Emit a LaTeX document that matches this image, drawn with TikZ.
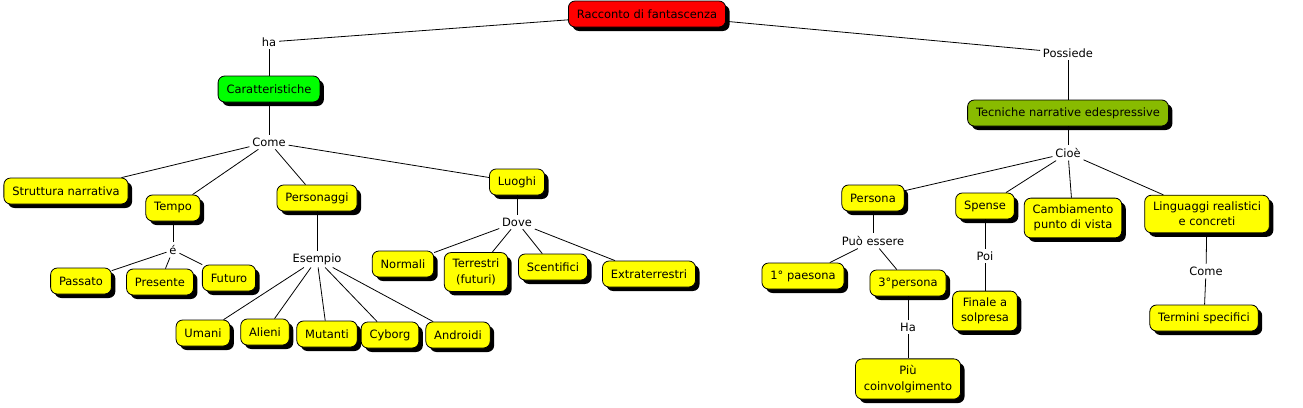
\documentclass[tikz,border=0pt]{standalone}
\usepackage{fontspec}
\setmainfont{DejaVu Sans}
\usetikzlibrary{shadows}
\definecolor{mapred}{RGB}{255,0,0}
\definecolor{mapgreen}{RGB}{0,255,0}
\definecolor{mapolive}{RGB}{136,187,0}
\definecolor{mapyellow}{RGB}{255,255,0}
\newcommand{\mapfont}{\fontsize{8.6pt}{11.5pt}\selectfont}

\begin{document}
\begin{tikzpicture}[x=0.75pt,y=-0.75pt,
    concept/.style={draw, rounded corners=5pt, fill=mapyellow, line width=0.6pt,
        inner xsep=6.3pt, inner ysep=5pt, minimum height=19.5pt, align=center, font=\mapfont,
        drop shadow={shadow xshift=3pt, shadow yshift=-3pt, fill=black, opacity=1}},
    linkword/.style={inner sep=2pt, font=\mapfont},
    link/.style={line width=0.6pt}]
            \useasboundingbox (0,0) rectangle (1303,407);

            % Root
            \node[concept, fill=mapred] (racconto) at (647,14) {Racconto di fantascenza};

            % Left branch
            \node[linkword] (ha) at (269,42) {ha};
            \node[concept, fill=mapgreen] (caratt) at (269,89) {Caratteristiche};
            \node[linkword] (come) at (269,142) {Come};
            \node[concept] (struttura) at (66,191) {Struttura narrativa};
            \node[concept] (tempo) at (173,208) {Tempo};
            \node[concept] (personaggi) at (317,198) {Personaggi};
            \node[concept] (luoghi) at (517,182) {Luoghi};

            \node[linkword] (e) at (173,250) {é};
            \node[concept] (passato) at (81,281) {Passato};
            \node[concept] (presente) at (160,282) {Presente};
            \node[concept] (futuro) at (229,278) {Futuro};

            \node[linkword] (esempio) at (317,259) {Esempio};
            \node[concept] (umani) at (203,333) {Umani};
            \node[concept] (alieni) at (265,332) {Alieni};
            \node[concept] (mutanti) at (327,334) {Mutanti};
            \node[concept] (cyborg) at (390,335) {Cyborg};
            \node[concept] (androidi) at (458,335) {Androidi};

            \node[linkword] (dove) at (517,222) {Dove};
            \node[concept] (normali) at (403,264) {Normali};
            \node[concept] (terrestri) at (476,272) {Terrestri\\(futuri)};
            \node[concept] (scentifici) at (553,267) {Scentifici};
            \node[concept] (extra) at (649,274) {Extraterrestri};

            % Right branch
            \node[linkword] (possiede) at (1068,53) {Possiede};
            \node[concept, fill=mapolive] (tecniche) at (1068,113) {Tecniche narrative edespressive};
            \node[linkword] (cioe) at (1068,153) {Cioè};
            \node[concept] (persona) at (873,198) {Persona};
            \node[concept] (spense) at (985,206) {Spense};
            \node[concept] (cambio) at (1073,218) {Cambiamento\\punto di vista};
            \node[concept] (linguaggi) at (1207,214) {Linguaggi realistici\\e concreti};

            \node[linkword] (puo) at (873,241) {Può essere};
            \node[concept] (prima) at (803,276) {1° paesona};
            \node[concept] (terza) at (908,283) {3°persona};
            \node[linkword] (ha2) at (908,327) {Ha};
            \node[concept] (piu) at (908,379) {Più\\coinvolgimento};

            \node[linkword] (poi) at (985,256) {Poi};
            \node[concept] (finale) at (985,311) {Finale a\\solpresa};

            \node[linkword] (come2) at (1206,271) {Come};
            \node[concept] (termini) at (1204,318) {Termini specifici};

            % Connectors
            \draw[link] (racconto) -- (ha);
            \draw[link] (ha) -- (caratt);
            \draw[link] (racconto) -- (possiede);
            \draw[link] (possiede) -- (tecniche);
            \draw[link] (caratt) -- (come);
            \foreach \n in {struttura,tempo,personaggi,luoghi}
                \draw[link] (come) -- (\n);
            \draw[link] (tempo) -- (e);
            \foreach \n in {passato,presente,futuro}
                \draw[link] (e) -- (\n);
            \draw[link] (personaggi) -- (esempio);
            \foreach \n in {umani,alieni,mutanti,cyborg,androidi}
                \draw[link] (esempio) -- (\n);
            \draw[link] (luoghi) -- (dove);
            \foreach \n in {normali,terrestri,scentifici,extra}
                \draw[link] (dove) -- (\n);
            \draw[link] (tecniche) -- (cioe);
            \foreach \n in {persona,spense,cambio,linguaggi}
                \draw[link] (cioe) -- (\n);
            \draw[link] (persona) -- (puo);
            \draw[link] (puo) -- (prima);
            \draw[link] (puo) -- (terza);
            \draw[link] (terza) -- (ha2);
            \draw[link] (ha2) -- (piu);
            \draw[link] (spense) -- (poi);
            \draw[link] (poi) -- (finale);
            \draw[link] (linguaggi) -- (come2);
            \draw[link] (come2) -- (termini);
        \end{tikzpicture}
\end{document}
